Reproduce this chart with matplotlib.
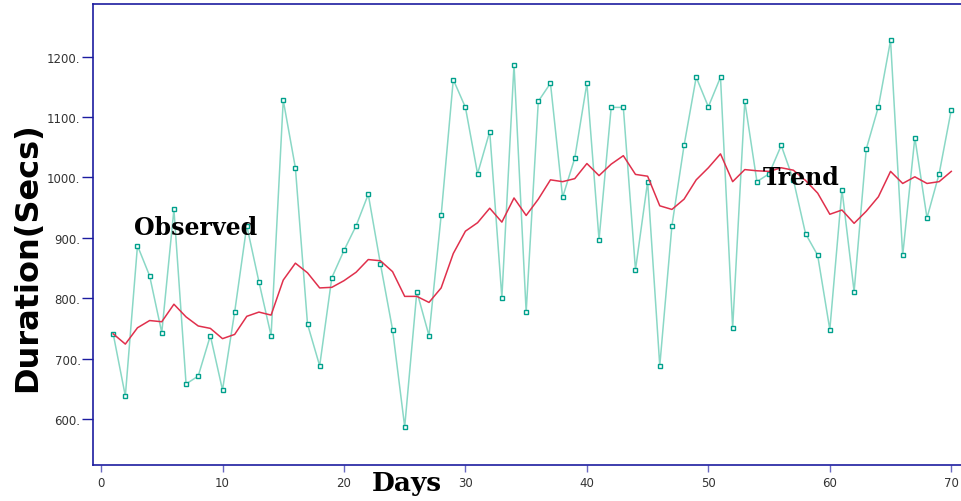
import numpy as np
import matplotlib.pyplot as plt

# observed durations per day (secs)
days = np.arange(1, 71)
observed = [741, 638, 887, 837, 743, 947, 658, 671, 738, 648,
            777, 920, 827, 738, 1128, 1016, 757, 688, 834, 879,
            920, 972, 857, 748, 587, 811, 738, 937, 1162, 1116,
            1006, 1076, 801, 1187, 777, 1126, 1156, 967, 1032, 1156,
            897, 1116, 1116, 847, 993, 688, 920, 1053, 1166, 1117,
            1166, 751, 1126, 993, 1006, 1053, 996, 907, 871, 748,
            980, 811, 1047, 1117, 1227, 871, 1066, 933, 1006, 1112]

trend = [741, 724, 751, 763, 761, 790, 769, 754, 750, 733,
         740, 770, 777, 772, 830, 858, 842, 817, 818, 829,
         843, 864, 862, 844, 803, 803, 793, 817, 874, 911,
         925, 949, 926, 966, 937, 964, 996, 993, 998, 1023,
         1003, 1022, 1036, 1005, 1002, 953, 947, 964, 996, 1016,
         1039, 993, 1013, 1011, 1010, 1016, 1012, 995, 974, 939,
         946, 924, 944, 968, 1010, 990, 1001, 990, 993, 1010]

yticks = [600, 700, 800, 900, 1000, 1100, 1200]
xticks = [0, 10, 20, 30, 40, 50, 60, 70]

spine_col = '#1c1ca0'

fig = plt.figure(figsize=(9.61, 5.02), dpi=100)
ax = fig.add_axes([0.0968, 0.072, 0.9032, 0.919])

ax.plot(days, observed, color='#8ad8c6', lw=1.1, marker='s', ms=3.5,
        mfc='white', mec='#00a08c', mew=1.0, zorder=2)
ax.plot(days, trend, color='#e0304c', lw=1.1, zorder=3)

ax.set_xlim(-0.66, 70.8)
ax.set_ylim(524, 1288)

ax.set_yticks(yticks)
ax.set_yticklabels([f'{v}.' for v in yticks])
ax.set_xticks(xticks)
ax.tick_params(axis='y', direction='out', length=8, width=1, color=spine_col,
               labelsize=8.5, labelcolor='#333333', pad=1)
ax.tick_params(axis='x', direction='out', length=5, width=1, color='#6a6ac0',
               labelsize=8.5, labelcolor='#333333', pad=3)

for s in ['left', 'bottom', 'top']:
    ax.spines[s].set_color(spine_col)
    ax.spines[s].set_linewidth(1.2)
ax.spines['right'].set_visible(False)

ax.text(7.8, 918, 'Observed', fontsize=17, fontweight='bold',
        family='DejaVu Serif', ha='center', va='center')
ax.text(57.6, 1001, 'Trend', fontsize=17, fontweight='bold',
        family='DejaVu Serif', ha='center', va='center')

fig.text(407 / 961, 1 - 484 / 502, 'Days', fontsize=19, fontweight='bold',
         family='DejaVu Serif', ha='center', va='center')
fig.text(28 / 961, 1 - 257 / 502, 'Duration(Secs)', fontsize=23,
         fontweight='bold', family='DejaVu Sans', rotation=90,
         ha='center', va='center')

fig.savefig('out.png', dpi=100)
